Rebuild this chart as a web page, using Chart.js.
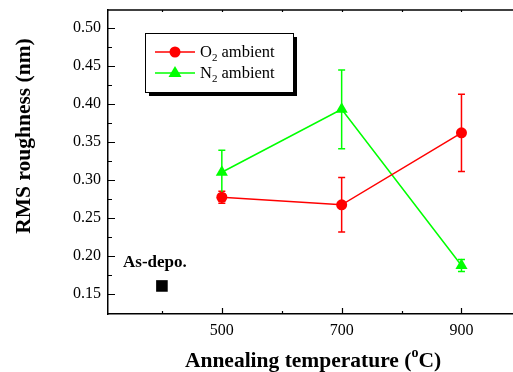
<!DOCTYPE html>
<html lang="en">
<head>
<meta charset="UTF-8" />
<title>RMS roughness vs annealing temperature</title>
<script src="https://cdn.jsdelivr.net/npm/chart.js"></script>
<style>
  html, body { margin: 0; padding: 0; background: #fff; }
  #wrap { width: 513px; height: 372px; }
</style>
</head>
<body>
<div id="wrap"><canvas id="rmsChart"></canvas></div>
<script>
// data
var temps = [500, 700, 900];
var o2Rms = [0.277, 0.267, 0.362];
var o2Err = [0.008, 0.036, 0.051];
var n2Rms = [0.310, 0.393, 0.187];
var n2Err = [0.029, 0.052, 0.008];
var asDepoTemp = 400;
var asDepoRms = 0.160;

var xTicks = [500, 700, 900];
var xMinor = [400, 600, 800];
var yTicks = [0.15, 0.20, 0.25, 0.30, 0.35, 0.40, 0.45, 0.50];
var yMinor = [0.175, 0.225, 0.275, 0.325, 0.375, 0.425, 0.475];

var serif = "'Liberation Serif', 'Times New Roman', serif";
var RED = "#ff0000";
var GREEN = "#00ff00";

Chart.defaults.font.family = serif;

function pts(xs, ys) {
  return xs.map(function (x, i) { return { x: x, y: ys[i] }; });
}

// error bars, ticks, legend and titles
var extras = {
  id: "extras",
  beforeDatasetsDraw: function (chart) {
    var ctx = chart.ctx, xs = chart.scales.x, ys = chart.scales.y;
    function bars(vals, errs, color) {
      ctx.save();
      ctx.strokeStyle = color;
      ctx.lineWidth = 1.5;
      temps.forEach(function (t, i) {
        var px = xs.getPixelForValue(t);
        var top = ys.getPixelForValue(vals[i] + errs[i]);
        var bot = ys.getPixelForValue(vals[i] - errs[i]);
        ctx.beginPath();
        ctx.moveTo(px, top); ctx.lineTo(px, bot);
        ctx.moveTo(px - 3.5, top); ctx.lineTo(px + 3.5, top);
        ctx.moveTo(px - 3.5, bot); ctx.lineTo(px + 3.5, bot);
        ctx.stroke();
      });
      ctx.restore();
    }
    bars(o2Rms, o2Err, RED);
    bars(n2Rms, n2Err, GREEN);
  },
  afterDraw: function (chart) {
    var ctx = chart.ctx, a = chart.chartArea;
    var xs = chart.scales.x, ys = chart.scales.y;
    ctx.save();
    ctx.strokeStyle = "#000";
    ctx.lineWidth = 1.5;
    // top frame line
    ctx.beginPath();
    ctx.moveTo(a.left, a.top); ctx.lineTo(a.right, a.top);
    ctx.stroke();
    // inward ticks
    ctx.lineWidth = 1.2;
    ctx.beginPath();
    yTicks.forEach(function (v) {
      var p = Math.round(ys.getPixelForValue(v)) + 0.5;
      ctx.moveTo(a.left, p); ctx.lineTo(a.left + 7, p);
    });
    yMinor.forEach(function (v) {
      var p = Math.round(ys.getPixelForValue(v)) + 0.5;
      ctx.moveTo(a.left, p); ctx.lineTo(a.left + 4, p);
    });
    xTicks.forEach(function (v) {
      var p = Math.round(xs.getPixelForValue(v)) + 0.5;
      ctx.moveTo(p, a.bottom); ctx.lineTo(p, a.bottom - 6);
      ctx.moveTo(p, a.top); ctx.lineTo(p, a.top + 2);
    });
    xMinor.forEach(function (v) {
      var p = Math.round(xs.getPixelForValue(v)) + 0.5;
      ctx.moveTo(p, a.bottom); ctx.lineTo(p, a.bottom - 3);
      ctx.moveTo(p, a.top); ctx.lineTo(p, a.top + 2);
    });
    ctx.stroke();

    // As-depo. label
    ctx.fillStyle = "#000";
    ctx.font = "bold 17px " + serif;
    ctx.textBaseline = "alphabetic";
    ctx.textAlign = "left";
    ctx.fillText("As-depo.", 123, 267);

    // legend box with shadow
    var lx = 145, ly = 33, lw = 148, lh = 59;
    ctx.fillStyle = "#000";
    ctx.fillRect(lx + 4, ly + 4, lw, lh);
    ctx.fillStyle = "#fff";
    ctx.fillRect(lx, ly, lw, lh);
    ctx.lineWidth = 1;
    ctx.strokeStyle = "#000";
    ctx.strokeRect(lx + 0.5, ly + 0.5, lw, lh);

    function entry(y, color, sym, lbl) {
      ctx.strokeStyle = color;
      ctx.fillStyle = color;
      ctx.lineWidth = 1.5;
      ctx.beginPath();
      ctx.moveTo(155, y); ctx.lineTo(195, y);
      ctx.stroke();
      ctx.beginPath();
      if (sym === "circle") {
        ctx.arc(175, y, 5.5, 0, Math.PI * 2);
      } else {
        ctx.moveTo(175, y - 7); ctx.lineTo(181.5, y + 4); ctx.lineTo(168.5, y + 4);
        ctx.closePath();
      }
      ctx.fill();
      ctx.fillStyle = "#000";
      ctx.font = "16.5px " + serif;
      ctx.fillText(lbl, 200, y + 5);
      var w = ctx.measureText(lbl).width;
      ctx.font = "11px " + serif;
      ctx.fillText("2", 200 + w, y + 9);
      var w2 = ctx.measureText("2").width;
      ctx.font = "16.5px " + serif;
      ctx.fillText(" ambient", 200 + w + w2, y + 5);
    }
    entry(52, RED, "circle", "O");
    entry(73, GREEN, "triangle", "N");

    // axis titles
    ctx.fillStyle = "#000";
    ctx.font = "bold 21.5px " + serif;
    ctx.save();
    ctx.translate(30, 136);
    ctx.rotate(-Math.PI / 2);
    ctx.textAlign = "center";
    ctx.fillText("RMS roughness (nm)", 0, 0);
    ctx.restore();

    var t1 = "Annealing temperature (", t3 = "C)";
    ctx.font = "bold 21.5px " + serif;
    var w1 = ctx.measureText(t1).width, w3 = ctx.measureText(t3).width;
    ctx.font = "bold 14px " + serif;
    var w2 = ctx.measureText("o").width;
    var x0 = 313 - (w1 + w2 + w3) / 2;
    ctx.font = "bold 21.5px " + serif;
    ctx.fillText(t1, x0, 367);
    ctx.font = "bold 14px " + serif;
    ctx.fillText("o", x0 + w1, 357);
    ctx.font = "bold 21.5px " + serif;
    ctx.fillText(t3, x0 + w1 + w2, 367);
    ctx.restore();
  }
};

var ctx = document.getElementById("rmsChart").getContext("2d");
var rmsChart = new Chart(ctx, {
  type: "line",
  data: {
    datasets: [
      {
        label: "As-depo.",
        data: [{ x: asDepoTemp, y: asDepoRms }],
        showLine: false,
        pointStyle: "rect",
        pointRadius: 8.2,
        backgroundColor: "#000",
        borderColor: "#000",
        borderWidth: 0
      },
      {
        label: "O2 ambient",
        data: pts(temps, o2Rms),
        borderColor: RED,
        backgroundColor: RED,
        borderWidth: 1.5,
        pointStyle: "circle",
        pointRadius: 5.5,
        pointBorderWidth: 0,
        fill: false
      },
      {
        label: "N2 ambient",
        data: pts(temps, n2Rms),
        borderColor: GREEN,
        backgroundColor: GREEN,
        borderWidth: 1.5,
        pointStyle: "triangle",
        pointRadius: 7,
        pointBorderWidth: 0,
        fill: false
      }
    ]
  },
  options: {
    responsive: true,
    maintainAspectRatio: false,
    animation: false,
    layout: { autoPadding: false, padding: { top: 10, right: 0, left: 0, bottom: 0 } },
    plugins: { legend: { display: false }, tooltip: { enabled: false } },
    scales: {
      x: {
        type: "linear",
        min: 310,
        max: 986,
        grid: { display: false, drawTicks: false },
        border: { display: true, color: "#000", width: 1.5 },
        afterBuildTicks: function (scale) {
          scale.ticks = xTicks.map(function (v) { return { value: v }; });
        },
        afterFit: function (scale) {
          scale.height = 58;
          scale.paddingLeft = 0;
          scale.paddingRight = 0;
        },
        ticks: {
          padding: 7,
          color: "#000",
          font: { family: serif, size: 16 },
          maxRotation: 0
        }
      },
      y: {
        min: 0.123,
        max: 0.524,
        grid: { display: false, drawTicks: false },
        border: { display: true, color: "#000", width: 1.5 },
        afterBuildTicks: function (scale) {
          scale.ticks = yTicks.map(function (v) { return { value: v }; });
        },
        afterFit: function (scale) {
          scale.width = 108;
          scale.paddingTop = 0;
          scale.paddingBottom = 0;
        },
        ticks: {
          padding: 7,
          color: "#000",
          font: { family: serif, size: 16 },
          callback: function (v) { return v.toFixed(2); }
        }
      }
    }
  },
  plugins: [extras]
});
</script>
</body>
</html>
